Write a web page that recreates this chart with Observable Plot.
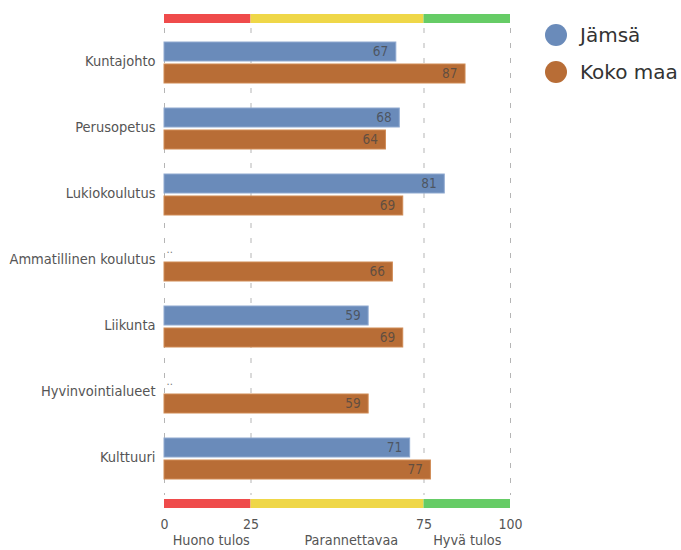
<!DOCTYPE html>
<html>
<head>
<meta charset="utf-8">
<script src="https://cdn.jsdelivr.net/npm/d3@7"></script>
<script src="https://cdn.jsdelivr.net/npm/@observablehq/plot@0.6"></script>
<style>
  html, body { margin: 0; padding: 0; background: #fff; }
  #wrap { position: relative; width: 681px; height: 550px; }
  #legend { position: absolute; left: 545px; top: 16px; font-family: "DejaVu Sans", sans-serif; font-size: 20px; color: #333; }
  .li { display: flex; align-items: center; height: 37px; }
  .sw { width: 22px; height: 22px; border-radius: 50%; margin-right: 13px; }
</style>
</head>
<body>
<div id="wrap"></div>
<script>
const categories = ["Kuntajohto", "Perusopetus", "Lukiokoulutus", "Ammatillinen koulutus", "Liikunta", "Hyvinvointialueet", "Kulttuuri"];
const jamsa = [67, 68, 81, null, 59, null, 71];
const kokoMaa = [87, 64, 69, 66, 69, 59, 77];
const seriesNames = ["Jämsä", "Koko maa"];
const seriesColors = ["#6a8bba", "#b86d36"];
const seriesStrokes = ["#8fa9d0", "#d08b55"];
const tickValues = [0, 25, 75, 100];
const zoneStarts = [0, 25, 75];
const zoneEnds = [25, 75, 100];
const zoneColors = ["#ef4b4b", "#efd748", "#66cc66"];
const zoneLabels = ["Huono tulos", "Parannettavaa", "Hyvä tulos"];
const zoneLabelAt = [13.5, 54, 87.5];

const narrow = '"DejaVu Sans Condensed", "DejaVu Sans", sans-serif';

const rowsJ = categories.map((c, i) => ({category: c, value: jamsa[i]})).filter(d => d.value != null);
const missingJ = categories.map((c, i) => ({category: c, value: jamsa[i]})).filter(d => d.value == null);
const rowsK = categories.map((c, i) => ({category: c, value: kokoMaa[i]}));
const zones = zoneStarts.map((s, i) => ({x1: s, x2: zoneEnds[i], color: zoneColors[i]}));

const W = 681, H = 550;
const mTop = 14, mBottom = 42;
const frameH = H - mTop - mBottom;
const bandH = 41, gap = 3, half = (bandH - gap) / 2;

const chart = Plot.plot({
  width: W,
  height: H,
  marginLeft: 164,
  marginRight: 171,
  marginTop: mTop,
  marginBottom: mBottom,
  style: {fontFamily: narrow, background: "#fff"},
  x: {domain: [0, 100]},
  y: {domain: categories, range: [29, 491], paddingInner: 0.38, paddingOuter: 0.19},
  marks: [
    Plot.ruleX(tickValues, {stroke: "#b5b5b5", strokeWidth: 1, strokeDasharray: "5,10", insetTop: 14, insetBottom: 13}),
    Plot.rect(zones, {x1: "x1", x2: "x2", fill: "color", insetBottom: frameH - 9}),
    Plot.rect(zones, {x1: "x1", x2: "x2", fill: "color", insetTop: frameH - 9}),
    Plot.barX(rowsJ, {x: "value", y: "category", fill: seriesColors[0], stroke: seriesStrokes[0], strokeWidth: 1, insetBottom: half + gap}),
    Plot.barX(rowsK, {x: "value", y: "category", fill: seriesColors[1], stroke: seriesStrokes[1], strokeWidth: 1, insetTop: half + gap}),
    Plot.text(rowsJ, {x: "value", y: "category", text: d => String(d.value), textAnchor: "end", dx: -8, dy: -(half + gap) / 2, fill: "#444", fillOpacity: 0.75, fontSize: 13.5}),
    Plot.text(rowsK, {x: "value", y: "category", text: d => String(d.value), textAnchor: "end", dx: -8, dy: (half + gap) / 2, fill: "#444", fillOpacity: 0.75, fontSize: 13.5}),
    Plot.text(missingJ, {x: 0, y: "category", text: () => "..", textAnchor: "start", dx: 2, dy: -12, fill: "#777", fontSize: 11}),
    Plot.axisY({tickSize: 0, tickPadding: 9, fontSize: 14.5, fill: "#555", dy: -2, label: null}),
    Plot.axisX(tickValues, {tickSize: 0, tickPadding: 11, fontSize: 14, fill: "#555", label: null}),
    Plot.axisX(zoneLabelAt, {tickSize: 0, tickPadding: 26, fontSize: 14.3, fill: "#555", label: null, tickFormat: (d, i) => zoneLabels[zoneLabelAt.indexOf(d)]})
  ]
});

const wrap = document.getElementById("wrap");
wrap.appendChild(chart);
const legend = document.createElement("div");
legend.id = "legend";
seriesNames.forEach((n, i) => {
  const item = document.createElement("div");
  item.className = "li";
  const sw = document.createElement("div");
  sw.className = "sw";
  sw.style.background = seriesColors[i];
  const t = document.createElement("span");
  t.textContent = n;
  item.appendChild(sw);
  item.appendChild(t);
  legend.appendChild(item);
});
wrap.appendChild(legend);
</script>
</body>
</html>
